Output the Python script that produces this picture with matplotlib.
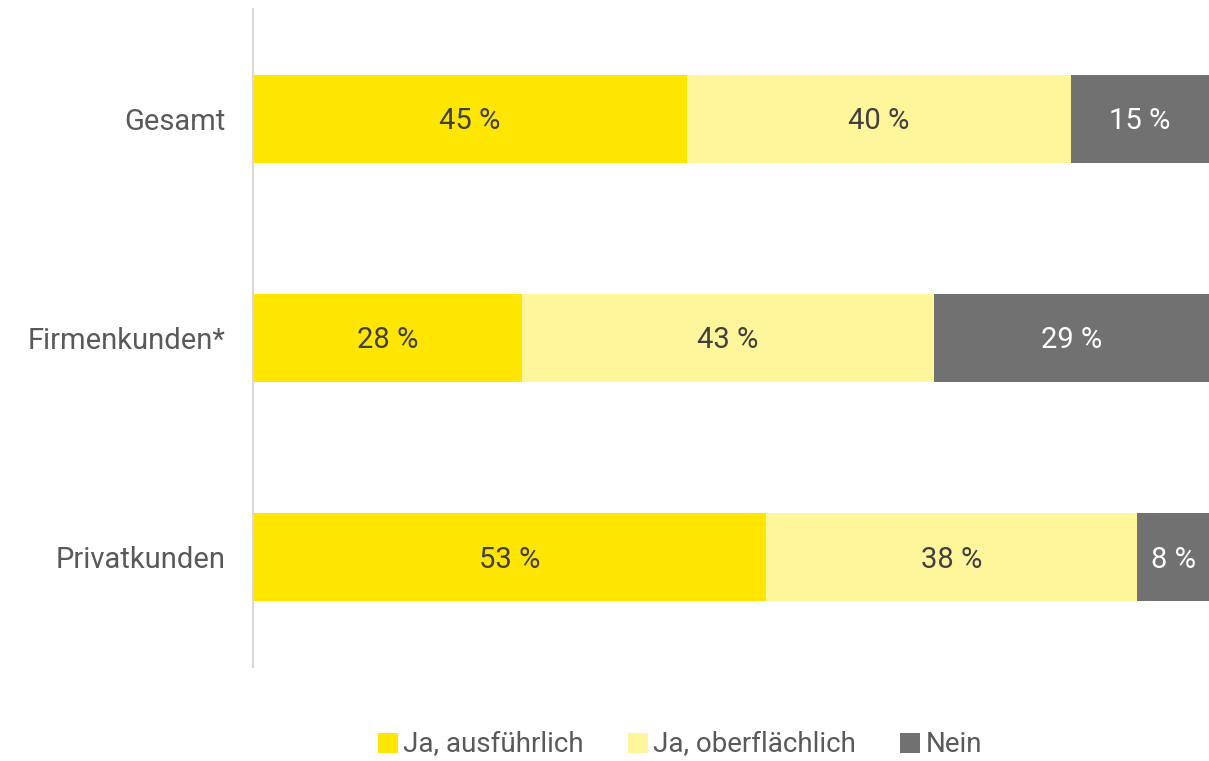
import matplotlib.pyplot as plt
import numpy as np

plt.rcParams['font.family'] = ['Roboto', 'DejaVu Sans']

kategorien = ['Gesamt', 'Firmenkunden*', 'Privatkunden']
serien = ['Ja, ausführlich', 'Ja, oberflächlich', 'Nein']
# Anteile (Balkenlänge) und angezeigte Werte
ja_ausf = [45.4, 28.1, 53.7]
ja_oberf = [40.2, 43.1, 38.8]
nein = [14.4, 28.8, 7.5]
label_ausf = [45, 28, 53]
label_oberf = [40, 43, 38]
label_nein = [15, 29, 8]

farben = ['#FFE600', '#FFF59A', '#717171']
textfarben = ['#404040', '#404040', '#FFFFFF']

fig = plt.figure(figsize=(12.09, 7.61), dpi=100)
ax = fig.add_axes([253/1209, 94/761, 956/1209, 658/761])

y = np.arange(len(kategorien))
links = np.zeros(len(kategorien))
for werte, labels, farbe, tf, name in zip([ja_ausf, ja_oberf, nein],
                                          [label_ausf, label_oberf, label_nein],
                                          farben, textfarben, serien):
    bars = ax.barh(y, werte, left=links, height=0.4, color=farbe, label=name)
    for b, l in zip(bars, labels):
        ax.text(b.get_x() + b.get_width()/2, b.get_y() + b.get_height()/2 + 0.01,
                f'{l} %', ha='center', va='center', fontsize=21, color=tf)
    links += np.array(werte)

ax.set_xlim(0, 100)
ax.set_ylim(2.5, -0.5)
ax.set_yticks(y)
ax.set_yticklabels(kategorien, fontsize=21, color='#595959')
ax.tick_params(axis='y', length=0, pad=20)
ax.set_xticks([])
for s in ['top', 'right', 'bottom']:
    ax.spines[s].set_visible(False)
ax.spines['left'].set_color('#D9D9D9')
ax.spines['left'].set_linewidth(1.5)

fig.legend(loc='center', bbox_to_anchor=(680/1209, 1-745/761), ncol=3, frameon=False,
           fontsize=20, handlelength=0.7, handleheight=0.7, handletextpad=0.2,
           columnspacing=1.6, labelcolor='#595959')

fig.savefig('out.png', dpi=100)
